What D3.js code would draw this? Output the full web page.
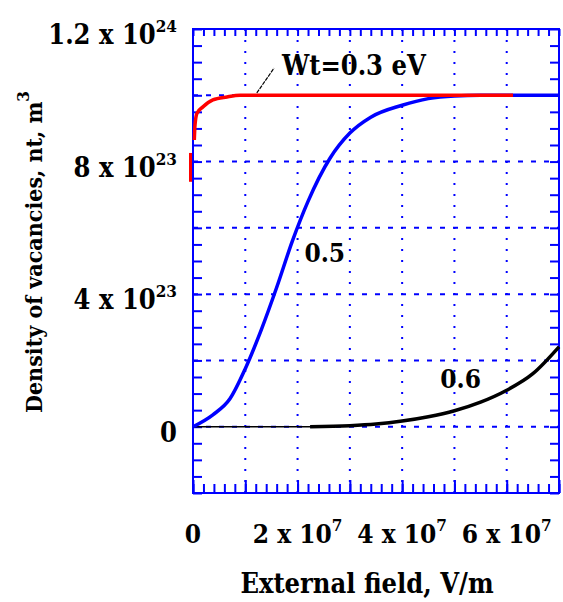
<!DOCTYPE html>
<html>
<head>
<meta charset="utf-8">
<script src="https://cdn.jsdelivr.net/npm/d3@7"></script>
<style>
body { margin: 0; background: #fff; }
text { font-family: "DejaVu Serif Condensed", "DejaVu Serif", serif; font-weight: bold; fill: #000; }
</style>
</head>
<body>
<div id="chart"></div>
<script>
// Wt = 0.3 eV
let redX = [2.5e5, 3.8e5, 7.6e5, 1.9e6, 3.8e6, 6.5e6, 9e6, 2e7, 4e7, 6.12e7];
let redY = [8.65e23, 9.10e23, 9.46e23, 9.65e23, 9.86e23, 9.95e23, 1e24, 1e24, 1e24, 1e24];
// little red piece just left of the frame
let redStubX = [-4.8e5, -4.8e5];
let redStubY = [7.39e23, 8.26e23];
// Wt = 0.5 eV
let blueX = [0, 3.8e6, 7.1e6, 1.0e7, 1.3e7, 1.6e7, 1.9e7, 2.2e7, 2.62e7, 3.0e7, 3.4e7, 4.0e7, 4.5e7, 5.0e7, 5.5e7, 7e7];
let blueY = [0, 0.36e23, 0.85e23, 1.75e23, 2.9e23, 4.2e23, 5.6e23, 6.8e23, 8.1e23, 8.86e23, 9.34e23, 9.7e23, 9.9e23, 9.98e23, 1e24, 1e24];
// Wt = 0.6 eV
let blackX = [0, 1e7, 2.24e7, 3e7, 3.5e7, 4e7, 4.5e7, 5e7, 5.5e7, 6e7, 6.5e7, 7e7];
let blackY = [0, 0, 0, 0.03e23, 0.08e23, 0.17e23, 0.3e23, 0.48e23, 0.74e23, 1.1e23, 1.6e23, 2.41e23];

let xTickVals = [0, 2e7, 4e7, 6e7];
let xTickText = ['0', '2 x 10', '4 x 10', '6 x 10'];
let xTickExp = ['', '7', '7', '7'];
let yTickVals = [0, 4e23, 8e23, 1.2e24];
let yTickText = ['0', '4 x 10', '8 x 10', '1.2 x 10'];
let yTickExp = ['', '23', '23', '24'];

let W = 563, H = 602;
let m = {left: 193, top: 29, right: 4, bottom: 109};
let iw = W - m.left - m.right, ih = H - m.top - m.bottom;

let svg = d3.select('#chart').append('svg').attr('width', W).attr('height', H);
let g = svg.append('g').attr('transform', `translate(${m.left},${m.top})`);

let x = d3.scaleLinear().domain([0, 7e7]).range([0, iw]);
let y = d3.scaleLinear().domain([-2e23, 1.2e24]).range([ih, 0]);

// grid
g.append('g').selectAll('line').data(d3.range(1e7, 7e7, 1e7)).enter().append('line')
    .attr('x1', d => x(d)).attr('x2', d => x(d)).attr('y1', 0).attr('y2', ih)
    .attr('stroke', '#0000ff').attr('stroke-width', 2).attr('stroke-dasharray', '2,9');
g.append('g').selectAll('line').data(d3.range(0, 1.1e24, 2e23)).enter().append('line')
    .attr('x1', 0).attr('x2', iw).attr('y1', d => y(d)).attr('y2', d => y(d))
    .attr('stroke', '#0000ff').attr('stroke-width', 2).attr('stroke-dasharray', '5,8');

// ticks, all pointing inward
let yMinor = d3.range(-2e23, 1.2e24 + 1, 5e22);
let xMinor = d3.range(0, 7e7 + 1, 2e6);
let tickStyle = sel => {
    sel.select('.domain').remove();
    sel.selectAll('line').attr('stroke', '#0000ff').attr('stroke-width', 2);
    sel.selectAll('text').remove();
};
g.append('g').call(d3.axisRight(y).tickValues(yMinor).tickSize(9)).call(tickStyle);
g.append('g').attr('transform', `translate(${iw},0)`)
    .call(d3.axisLeft(y).tickValues(yMinor).tickSize(9)).call(tickStyle);
g.append('g').call(d3.axisBottom(x).tickValues(xMinor).tickSize(7)).call(tickStyle);
g.append('g').attr('transform', `translate(0,${ih})`)
    .call(d3.axisTop(x).tickValues(xMinor).tickSize(9)).call(tickStyle);
g.append('g').attr('transform', `translate(0,${ih})`)
    .call(d3.axisTop(x).tickValues(d3.range(0, 7e7 + 1, 1e7)).tickSize(13)).call(tickStyle);

g.append('rect').attr('x', 0).attr('y', 0).attr('width', iw).attr('height', ih)
    .attr('fill', 'none').attr('stroke', '#0000ff').attr('stroke-width', 2);

// curves
let line = d3.line().x(d => x(d[0])).y(d => y(d[1])).curve(d3.curveMonotoneX);
let zip = (a, b) => a.map((v, i) => [v, b[i]]);

let black = zip(blackX, blackY);
g.append('path').datum(black).attr('d', line)
    .attr('fill', 'none').attr('stroke', '#000').attr('stroke-width', 1.6);
g.append('path').datum(black.filter(d => d[0] >= 2.24e7)).attr('d', line)
    .attr('fill', 'none').attr('stroke', '#000').attr('stroke-width', 3.5);

g.append('path').datum(zip(blueX, blueY)).attr('d', line)
    .attr('fill', 'none').attr('stroke', '#0000ff').attr('stroke-width', 3.5);

g.append('path').datum(zip(redX, redY)).attr('d', line)
    .attr('fill', 'none').attr('stroke', '#ff0000').attr('stroke-width', 3.5);
g.append('path').datum(zip(redStubX, redStubY)).attr('d', d3.line().x(d => x(d[0])).y(d => y(d[1])))
    .attr('fill', 'none').attr('stroke', '#ff0000').attr('stroke-width', 3);

// annotations
g.append('line')
    .attr('x1', x(1.22e7)).attr('y1', y(1.007e24)).attr('x2', x(1.55e7)).attr('y2', y(1.082e24))
    .attr('stroke', '#000').attr('stroke-width', 1.2).attr('stroke-dasharray', '4,1');
g.append('text').attr('x', x(1.70e7)).attr('y', y(1.061e24)).attr('font-size', 27).text('Wt=0.3 eV');
g.append('text').attr('x', x(2.52e7)).attr('y', y(4.97e23)).attr('text-anchor', 'middle').attr('font-size', 26).text('0.5');
g.append('text').attr('x', x(5.12e7)).attr('y', y(1.18e23)).attr('text-anchor', 'middle').attr('font-size', 26).text('0.6');

// tick labels with powers of ten
let addLabel = (sel, txt, ex) => {
    sel.append('tspan').text(txt);
    if (ex) sel.append('tspan').attr('dy', -12).attr('font-size', 17).text(ex);
};
yTickVals.forEach((v, i) => {
    let t = g.append('text').attr('x', -16).attr('y', y(v) + 15)
        .attr('text-anchor', 'end').attr('font-size', 27);
    addLabel(t, yTickText[i], yTickExp[i]);
});
xTickVals.forEach((v, i) => {
    let t = g.append('text').attr('x', x(v)).attr('y', ih + 50)
        .attr('text-anchor', 'middle').attr('font-size', 26);
    addLabel(t, xTickText[i], xTickExp[i]);
});

// axis titles
svg.append('text').attr('x', 367).attr('y', 593).attr('text-anchor', 'middle')
    .attr('font-size', 27).text('External field, V/m');
let yt = svg.append('text').attr('transform', 'translate(42,252) rotate(-90)')
    .attr('text-anchor', 'middle').attr('font-size', 23);
yt.append('tspan').text('Density of vacancies, nt, m');
yt.append('tspan').attr('dy', -13).attr('font-size', 17).text('3');
</script>
</body>
</html>
